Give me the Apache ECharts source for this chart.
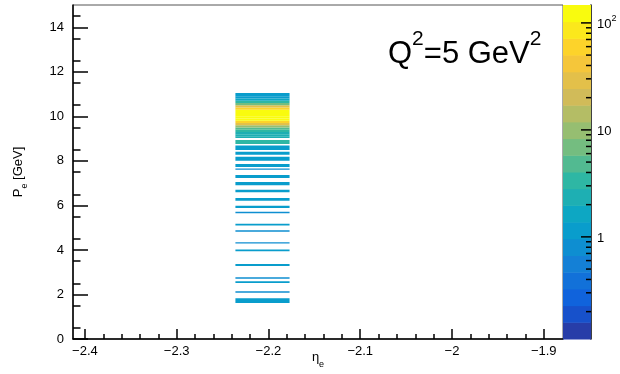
<!DOCTYPE html>
<html>
<head>
<meta charset="utf-8">
<script src="https://cdn.jsdelivr.net/npm/echarts@6/dist/echarts.min.js"></script>
<style>
  html, body { margin: 0; padding: 0; background: #fff; }
  #c { width: 620px; height: 374px; }
</style>
</head>
<body>
<div id="c"></div>
<script>
// eta_e bin occupied by the electrons
const etaLow = -2.236;
const etaHigh = -2.177;

// P_e rows: lower edge, upper edge [GeV] and weighted bin content
const pLow  = [1.62, 2.08, 2.52, 2.71, 3.28, 3.94, 4.29, 4.82, 5.10, 5.65,
               5.88, 6.21, 6.59, 6.91, 7.23, 7.60, 7.72, 8.01, 8.27, 8.49,
               8.76, 9.03, 9.10, 9.20, 9.30, 9.40, 9.50, 9.60, 9.70, 9.80,
               9.90, 10.00, 10.10, 10.20, 10.30, 10.40, 10.50, 10.60, 10.70, 10.80,
               10.90];
const pHigh = [1.83, 2.15, 2.59, 2.77, 3.37, 4.02, 4.35, 4.88, 5.18, 5.71,
               5.98, 6.33, 6.70, 7.05, 7.36, 7.66, 7.86, 8.18, 8.41, 8.69,
               8.94, 9.10, 9.20, 9.30, 9.40, 9.50, 9.60, 9.70, 9.80, 9.90,
               10.00, 10.10, 10.20, 10.30, 10.40, 10.50, 10.60, 10.70, 10.80, 10.90,
               11.05];
const counts = [1.1, 0.9, 1.0, 0.9, 1.0, 1.0, 0.9, 0.9, 1.0, 0.9,
                1.0, 1.0, 1.0, 1.0, 1.0, 0.9, 1.0, 1.1, 1.3, 1.2,
                3.2, 2.0, 2.2, 2.4, 3.0, 5.0, 10, 30, 60, 120,
                140, 140, 130, 110, 70, 30, 8, 3, 1.6, 1.2,
                1.0];

// axis ticks
const xMajor = [-2.4, -2.3, -2.2, -2.1, -2.0, -1.9];
const yMajor = [0, 2, 4, 6, 8, 10, 12, 14];
const zMajor = [1, 10, 100];

// axis ranges
const xMin = -2.413, xMax = -1.879;
const yMin = 0, yMax = 15;
const zMin = 0.111, zMax = 147;
const nContours = 20;

const xMinor = [];
for (let i = 0; i <= 25; i++) {
  const v = +(-2.4 + i * 0.02).toFixed(2);
  if (i % 5 !== 0) xMinor.push(v);
}
const yMinor = [];
for (let v = 0.5; v < yMax; v += 1) yMinor.push(v);
const zMinor = [];
[0.1, 1, 10].forEach(d => { for (let m = 2; m <= 9; m++) { const v = m * d; if (v > zMin && v < zMax) zMinor.push(+v.toFixed(3)); } });

// ROOT kBird palette
const birdStops = [0.0, 0.125, 0.25, 0.375, 0.5, 0.625, 0.75, 0.875, 1.0];
const birdR = [0.2082, 0.0592, 0.0780, 0.0232, 0.1802, 0.5301, 0.8186, 0.9956, 0.9764];
const birdG = [0.1664, 0.3599, 0.5041, 0.6419, 0.7178, 0.7492, 0.7328, 0.7862, 0.9832];
const birdB = [0.5293, 0.8684, 0.8385, 0.7914, 0.6425, 0.4662, 0.3499, 0.1968, 0.0539];

function bird(pos) {
  let i = 0;
  while (i < birdStops.length - 2 && pos > birdStops[i + 1]) i++;
  const t = (pos - birdStops[i]) / (birdStops[i + 1] - birdStops[i]);
  const c = arr => Math.round(255 * (arr[i] + t * (arr[i + 1] - arr[i])));
  return 'rgb(' + c(birdR) + ',' + c(birdG) + ',' + c(birdB) + ')';
}
function contourColor(k) {
  return bird(Math.floor((k + 0.99) * 255 / nContours) / 254);
}
function contourIndex(v) {
  const t = (Math.log10(v) - Math.log10(zMin)) / (Math.log10(zMax) - Math.log10(zMin));
  return Math.max(0, Math.min(nContours - 1, Math.floor(t * nContours)));
}

const cells = pLow.map((lo, i) => [etaLow, etaHigh, lo, pHigh[i], counts[i]]);
const bands = [];
for (let k = 0; k < nContours; k++) {
  bands.push([k,
    zMin * Math.pow(zMax / zMin, k / nContours),
    zMin * Math.pow(zMax / zMin, (k + 1) / nContours)]);
}
const zTicks = zMajor.map(v => [v, 1]).concat(zMinor.map(v => [v, 0]));

const FONT = '"Liberation Sans", Arial, Helvetica, sans-serif';
const minus = v => { const n = +(+v).toFixed(2); return (n < 0 ? '\u2212' : '') + Math.abs(n); };

const chart = echarts.init(document.getElementById('c'), null, { renderer: 'canvas', width: 620, height: 374 });

chart.setOption({
  animation: false,
  backgroundColor: '#fff',
  textStyle: { fontFamily: FONT },
  title: {
    text: '{a|Q}{s|2}{a|=5 GeV}{s|2}',
    left: 388, top: 29, padding: 0,
    textStyle: {
      fontWeight: 'normal',
      rich: {
        a: { fontSize: 31, fontFamily: FONT, fontWeight: 'normal', color: '#000', lineHeight: 41, verticalAlign: 'bottom' },
        s: { fontSize: 21, fontFamily: FONT, fontWeight: 'normal', color: '#000', lineHeight: 21, verticalAlign: 'top' }
      }
    }
  },
  grid: [
    { left: 73, top: 5, width: 490, height: 334, show: true, borderColor: '#555', borderWidth: 1, backgroundColor: '#fff', outerBoundsMode: 'none', containLabel: false },
    { left: 563, top: 5, width: 28, height: 334, outerBoundsMode: 'none', containLabel: false }
  ],
  xAxis: [
    {
      gridIndex: 0, type: 'value', position: 'bottom', min: xMin, max: xMax,
      axisLine: { show: true, onZero: false, lineStyle: { color: '#000', width: 1.5 } },
      axisTick: { show: true, inside: true, length: 10, customValues: xMajor, lineStyle: { color: '#000', width: 1.5 } },
      axisLabel: { customValues: xMajor, formatter: minus, fontSize: 13, color: '#000', fontFamily: FONT, margin: 6 },
      splitLine: { show: false },
      name: '{a|\u03b7}{s|e}', nameLocation: 'middle', nameGap: 12, nameMoveOverlap: false,
      nameTextStyle: {
        rich: {
          a: { fontSize: 13, fontFamily: FONT, color: '#000', lineHeight: 18, verticalAlign: 'top' },
          s: { fontSize: 9, fontFamily: FONT, color: '#000', lineHeight: 9, verticalAlign: 'bottom' }
        }
      }
    },
    {
      gridIndex: 0, type: 'value', position: 'bottom', min: xMin, max: xMax,
      axisLine: { show: false },
      axisTick: { show: true, inside: true, length: 5, customValues: xMinor, lineStyle: { color: '#000', width: 1.5 } },
      axisLabel: { show: false }, splitLine: { show: false }
    },
    { gridIndex: 1, type: 'value', min: 0, max: 1, show: false }
  ],
  yAxis: [
    {
      gridIndex: 0, type: 'value', position: 'left', min: yMin, max: yMax,
      axisLine: { show: true, onZero: false, lineStyle: { color: '#000', width: 1.5 } },
      axisTick: { show: true, inside: true, length: 15, customValues: yMajor, lineStyle: { color: '#000', width: 1.5 } },
      axisLabel: { customValues: yMajor, fontSize: 13, color: '#000', fontFamily: FONT, margin: 9 },
      splitLine: { show: false },
      name: '{a|P}{s|e}{a| [GeV]}', nameLocation: 'middle', nameRotate: 90, nameGap: 44, nameMoveOverlap: false,
      nameTextStyle: {
        rich: {
          a: { fontSize: 13, fontFamily: FONT, color: '#000', lineHeight: 17, verticalAlign: 'top' },
          s: { fontSize: 9, fontFamily: FONT, color: '#000', lineHeight: 9, verticalAlign: 'bottom' }
        }
      }
    },
    {
      gridIndex: 0, type: 'value', position: 'left', min: yMin, max: yMax,
      axisLine: { show: false },
      axisTick: { show: true, inside: true, length: 7.5, customValues: yMinor, lineStyle: { color: '#000', width: 1.5 } },
      axisLabel: { show: false }, splitLine: { show: false }
    },
    {
      gridIndex: 1, type: 'log', logBase: 10, position: 'right', min: zMin, max: zMax,
      axisLine: { show: true, onZero: false, lineStyle: { color: '#000', width: 1.5 } },
      axisTick: { show: false },
      axisLabel: {
        fontSize: 13, color: '#000', fontFamily: FONT, margin: 6, showMinLabel: false, showMaxLabel: false,
        formatter: v => {
          const e = Math.log10(v);
          if (Math.abs(e - Math.round(e)) > 1e-6) return '';
          const n = Math.round(e);
          if (n === 0) return '{n|1}';
          if (n === 1) return '{n|10}';
          return '{n|10}{s|' + n + '}';
        },
        rich: {
          n: { fontSize: 13, fontFamily: FONT, color: '#000', lineHeight: 17, verticalAlign: 'bottom' },
          s: { fontSize: 9, fontFamily: FONT, color: '#000', lineHeight: 9, verticalAlign: 'top' }
        }
      },
      splitLine: { show: false }
    }
  ],
  series: [
    {
      type: 'custom', coordinateSystem: 'cartesian2d', xAxisIndex: 0, yAxisIndex: 0,
      data: cells, encode: { x: [0, 1], y: [2, 3] }, silent: true, clip: true,
      renderItem: (params, api) => {
        const a = api.coord([api.value(0), api.value(3)]);
        const b = api.coord([api.value(1), api.value(2)]);
        return {
          type: 'rect',
          shape: { x: a[0], y: a[1], width: b[0] - a[0], height: b[1] - a[1] },
          style: { fill: contourColor(contourIndex(api.value(4))) }
        };
      }
    },
    {
      type: 'custom', coordinateSystem: 'cartesian2d', xAxisIndex: 2, yAxisIndex: 2,
      data: bands, encode: { y: [1, 2] }, silent: true,
      renderItem: (params, api) => {
        const a = api.coord([0, api.value(2)]);
        const b = api.coord([1, api.value(1)]);
        return {
          type: 'rect',
          shape: { x: a[0], y: a[1], width: b[0] - a[0], height: b[1] - a[1] + 0.5 },
          style: { fill: contourColor(api.value(0)) }
        };
      }
    },
    {
      type: 'custom', coordinateSystem: 'cartesian2d', xAxisIndex: 2, yAxisIndex: 2,
      data: zTicks, encode: { y: 0 }, silent: true, z: 5,
      renderItem: (params, api) => {
        const p = api.coord([1, api.value(0)]);
        const len = api.value(1) ? 10 : 5;
        return {
          type: 'line',
          shape: { x1: p[0], y1: p[1], x2: p[0] - len, y2: p[1] },
          style: { stroke: '#000', lineWidth: 1.5 }
        };
      }
    }
  ]
});
</script>
</body>
</html>
